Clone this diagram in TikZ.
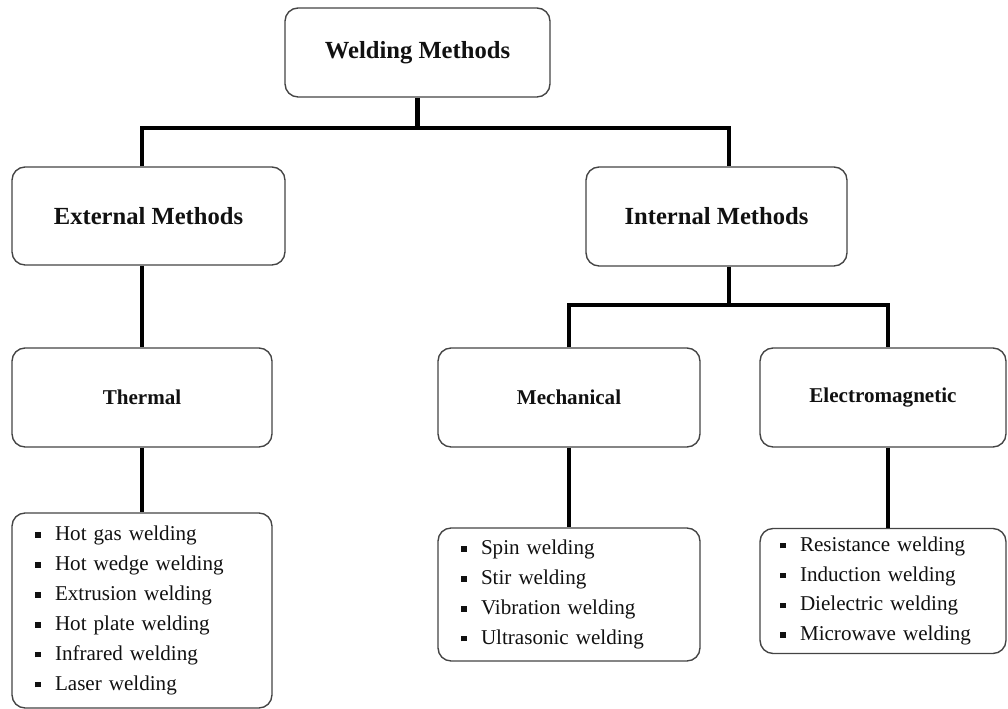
\documentclass[tikz,border=0pt]{standalone}
\usepackage{fontspec}
\setmainfont{Liberation Serif}
\usetikzlibrary{positioning}
\usetikzlibrary{calc}
\definecolor{wmEdge}{HTML}{444444}
\definecolor{wmInk}{HTML}{111111}
\newcommand{\wmitem}{\makebox[0.4cm][l]{\rule[0.3ex]{0.11cm}{0.11cm}}}
\tikzset{
  wm box/.style={
    rectangle,
    rounded corners=2.6mm,
    draw=wmEdge,
    line width=0.8pt,
    fill=white,
    text=wmInk,
    inner sep=0pt,
    align=center,
  },
}
\tikzset{
  wm head/.style={
    wm box,
    font=\fontsize{14}{16}\selectfont\bfseries,
  },
}
\tikzset{
  wm sub/.style={
    wm box,
    minimum height=1.98cm,
    font=\fontsize{12}{14}\selectfont\bfseries,
  },
}
\tikzset{
  wm list/.style={
    wm box,
    align=left,
    font=\fontsize{12}{17}\selectfont,
  },
}
\tikzset{
  wm trunk/.style={
    draw=black,
    line width=2.3pt,
    line join=miter,
  },
}
\tikzset{
  wm figure/.style={
    x=0.02cm,
    y=-0.02cm,
  },
}

\begin{document}
\begin{tikzpicture}[wm figure]

  \useasboundingbox (0, 0) rectangle (1008, 709);

  % =========================================================================
  % Top level
  % =========================================================================
  \node[wm head, minimum width=5.30cm, minimum height=1.78cm]
    (weld) at (417.5, 52.5) {Welding Methods};

  % =========================================================================
  % Second level: external / internal
  % =========================================================================
  \node[wm head, minimum width=5.46cm, minimum height=1.96cm]
    (ext) at (148.5, 216) {External Methods};
  \node[wm head, minimum width=5.22cm, minimum height=1.98cm]
    (int) at (716.5, 216.5) {Internal Methods};

  % =========================================================================
  % Third level
  % =========================================================================
  \node[wm sub, minimum width=5.20cm] (thermal) at (142, 397.5) {Thermal};
  \node[wm sub, minimum width=5.24cm] (mech)    at (569, 397.5) {Mechanical};
  \node[wm sub, minimum width=4.92cm] (emag)    at (883, 397.5) {Electromagnetic};

  % =========================================================================
  % Method lists
  % =========================================================================
  \node[wm list, minimum width=5.20cm, minimum height=3.90cm, text width=4.28cm]
    (tlist) at (142, 610.5)
    {\wmitem Hot gas welding\\
     \wmitem Hot wedge welding\\
     \wmitem Extrusion welding\\
     \wmitem Hot plate welding\\
     \wmitem Infrared welding\\
     \wmitem Laser welding};
  \node[wm list, minimum width=5.24cm, minimum height=2.66cm, text width=4.32cm]
    (mlist) at (569, 594.5)
    {\wmitem Spin welding\\
     \wmitem Stir welding\\
     \wmitem Vibration welding\\
     \wmitem Ultrasonic welding};
  \node[wm list, minimum width=4.92cm, minimum height=2.50cm, text width=4.12cm]
    (elist) at (883, 591)
    {\wmitem Resistance welding\\
     \wmitem Induction welding\\
     \wmitem Dielectric welding\\
     \wmitem Microwave welding};

  % junction points of the trunk lines
  \coordinate (j_ext) at (142, 128);
  \coordinate (j_int) at (729, 128);
  \coordinate (j_sub) at (729, 305);
  \coordinate (j_em)  at (888, 305);

  % =========================================================================
  % Connectors
  % =========================================================================
  \draw[wm trunk] (weld.south) -- (weld.south |- j_ext);
  \draw[wm trunk]
    (ext.north -| j_ext) -- (j_ext) -- (j_int) -- (int.north -| j_int);
  \draw[wm trunk] (int.south -| j_int) -- (j_sub);
  \draw[wm trunk] (mech.north) |- (j_sub) -- (j_em) -- (emag.north -| j_em);

  \draw[wm trunk] (ext.south -| thermal.north) -- (thermal.north);
  \draw[wm trunk] (thermal.south) -- (tlist.north);
  \draw[wm trunk] (mech.south) -- (mlist.north);
  \draw[wm trunk] (emag.south -| j_em) -- (elist.north -| j_em);

\end{tikzpicture}
\end{document}
